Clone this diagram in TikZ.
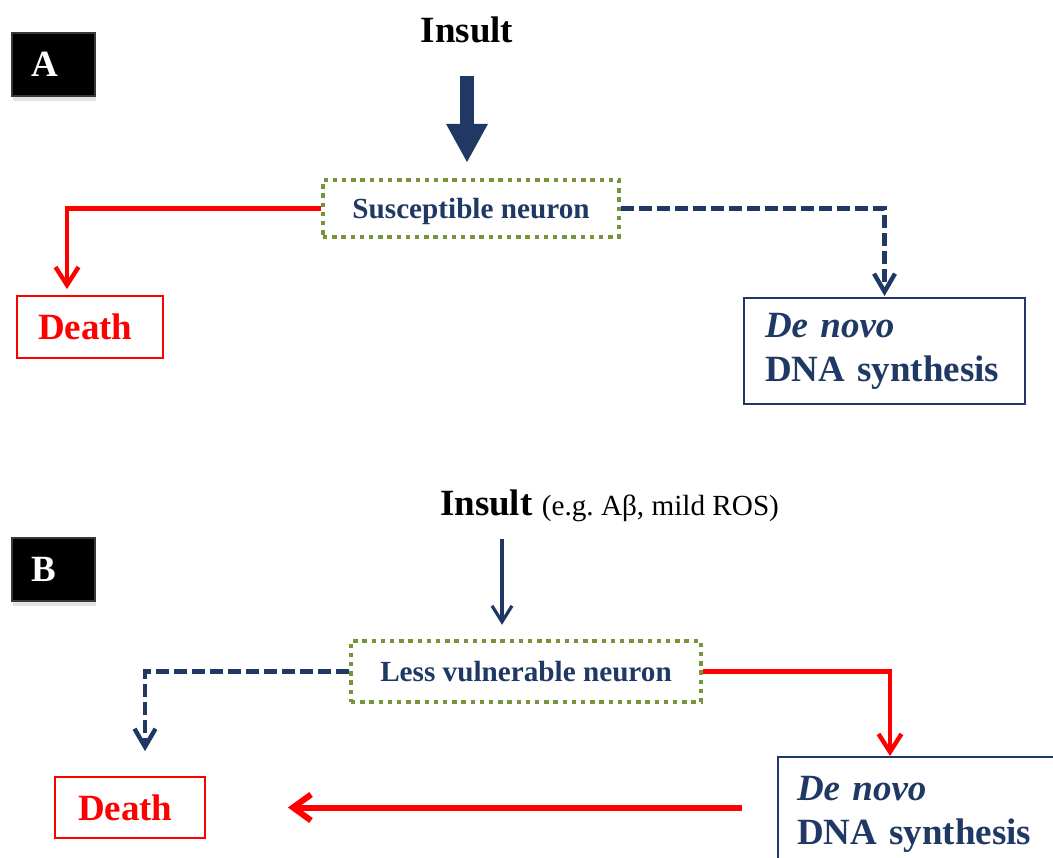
\documentclass[tikz,border=0pt]{standalone}
\usepackage{fontspec}
\setmainfont{Liberation Serif}
\usepackage{tikz}
\usetikzlibrary{arrows.meta,shadows}
\usetikzlibrary{positioning}
\definecolor{navy}{HTML}{1F3864}
\definecolor{olive}{HTML}{77933C}
\tikzset{panel/.style={fill=black, draw=black!78, line width=1.2pt, text=white, align=left,
  text width=21.5pt, inner xsep=10pt, minimum height=31.5pt,
  font=\fontsize{18.5}{22}\selectfont\bfseries,
  drop shadow={shadow xshift=0.6pt, shadow yshift=-2.5pt, opacity=0.22}},
insult/.style={inner sep=0pt, font=\fontsize{18.5}{22}\selectfont\bfseries},
cell/.style={draw=olive, line width=2.2pt, dash pattern=on 2.2pt off 2.4pt, text=navy,
  text depth=0pt, font=\fontsize{14.6}{17.5}\selectfont\bfseries},
fate/.style={draw=red, line width=0.9pt, text=red, align=left, text width=52pt,
  font=\fontsize{18.5}{22}\selectfont\bfseries},
repair/.style={draw=navy, line width=1pt, text=navy, align=left,
  font=\fontsize{18.5}{22}\selectfont\bfseries},
heavy/.style={navy, line width=7pt, -{Triangle[length=19.5pt,width=19.5pt]}},
hit/.style={navy, line width=1.6pt, -{Straight Barb[length=8pt,width=10pt]}},
spare/.style={navy, line width=2.2pt, dash pattern=on 6.5pt off 2.5pt, -{Straight Barb[length=9pt,width=10.5pt]}},
kill/.style={red, line width=2.2pt, -{Straight Barb[length=9pt,width=11.5pt]}},
kill_long/.style={red, line width=3pt, -{Straight Barb[length=9pt,width=13pt]}}
}
\frenchspacing

\begin{document}
\begin{tikzpicture}[x=0.5pt, y=-0.5pt, on grid]
        \useasboundingbox (0,0) rectangle (1053,857);
        \clip (0,0) rectangle (1053,857);

        \node[panel]  (panel_a)  at (53.5,64.5)  {A};
        \node[insult] (insult_a) at (467,30)     {Insult};
        \node[cell, minimum width=148pt, minimum height=28.5pt] (neuron_a) at (471,208.5) {Susceptible neuron};
        \node[fate, minimum width=73pt, minimum height=31pt, inner xsep=10.5pt]
              (death_a) [below left=59.25pt and 190.5pt of neuron_a]  {Death};
        \node[repair, text width=119.5pt, minimum height=53pt, inner xsep=10.5pt]
              (dna_a)   [below right=71.25pt and 206.75pt of neuron_a] {\textit{De novo}\\DNA synthesis};

        \draw[heavy, shorten <=16.25pt, shorten >=7.5pt] (insult_a.south) -- (insult_a.south |- neuron_a.north);
        \draw[kill,  shorten >=3pt]   (neuron_a.west) -| ([xshift=-11.5pt]death_a.north);
        \draw[spare, shorten >=0.5pt] (neuron_a.east) -| (dna_a.north);

        \node[panel]  (panel_b)  at (53.5,569.5) {B};
        \node[insult] (insult_b) at (609.5,505.6)
              {Insult {\fontsize{14.6}{17.5}\selectfont\mdseries (e.g. Aβ, mild ROS)}};
        \node[cell, minimum width=175pt, minimum height=30.5pt] (neuron_b) at (526,671.5) {Less vulnerable neuron};
        \node[fate, minimum width=75pt, minimum height=30.5pt, inner xsep=11.5pt]
              (death_b) [below left=68pt and 198pt of neuron_b]   {Death};
        \node[repair, text width=130pt, minimum height=57.5pt, inner xsep=9.5pt]
              (dna_b)   [below right=71.5pt and 200.5pt of neuron_b] {\textit{De novo}\\DNA synthesis};
        \coordinate (hit_b) at ([xshift=-12pt]neuron_b.north);

        \draw[hit,   shorten <=8.5pt, shorten >=7pt] (insult_b.south -| hit_b) -- (hit_b);
        \draw[spare, shorten >=12.5pt] (neuron_b.west) -| ([xshift=7.5pt]death_b.north);
        \draw[kill]                    (neuron_b.east) -| ([xshift=-18.5pt]dna_b.north);
        \draw[kill_long, shorten <=17.5pt, shorten >=41pt] (dna_b.west |- death_b.east) -- (death_b.east);
      \end{tikzpicture}
\end{document}
